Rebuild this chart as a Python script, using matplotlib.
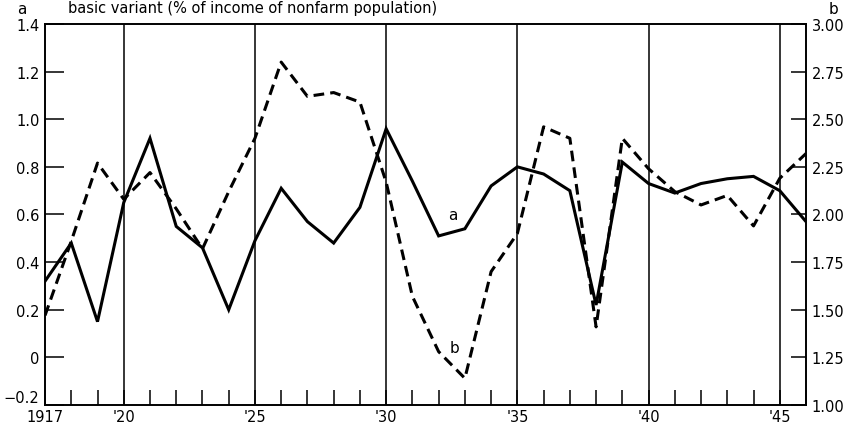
import numpy as np
import matplotlib.pyplot as plt

# Years and the two series
years = list(range(1917, 1947))
series_a = [0.32, 0.48, 0.15, 0.65, 0.92, 0.55, 0.46, 0.20, 0.49, 0.71,
            0.57, 0.48, 0.63, 0.96, 0.74, 0.51, 0.54, 0.72, 0.80, 0.77,
            0.70, 0.22, 0.82, 0.73, 0.69, 0.73, 0.75, 0.76, 0.70, 0.57]
series_b = [1.47, 1.86, 2.27, 2.08, 2.22, 2.03, 1.82, 2.12, 2.40, 2.80,
            2.62, 2.64, 2.59, 2.17, 1.57, 1.28, 1.14, 1.70, 1.90, 2.46,
            2.40, 1.41, 2.40, 2.24, 2.12, 2.05, 2.10, 1.94, 2.19, 2.32]

left_ticks = [-0.2, 0, 0.2, 0.4, 0.6, 0.8, 1.0, 1.2, 1.4]
left_labels = ['\u22120.2', '0', '0.2', '0.4', '0.6', '0.8', '1.0', '1.2', '1.4']
right_ticks = [1.00, 1.25, 1.50, 1.75, 2.00, 2.25, 2.50, 2.75, 3.00]
right_labels = ['1.00', '1.25', '1.50', '1.75', '2.00', '2.25', '2.50', '2.75', '3.00']
x_major = [1917, 1920, 1925, 1930, 1935, 1940, 1945]
x_labels = ['1917', "'20", "'25", "'30", "'35", "'40", "'45"]
grid_years = [1920, 1925, 1930, 1935, 1940, 1945]

plt.rcParams['font.family'] = ['DejaVu Sans']

fig = plt.figure(figsize=(8.56, 4.27), dpi=100)
ax = fig.add_axes([0.0526, 0.0492, 0.889, 0.8923])
ax2 = ax.twinx()

# vertical reference lines at every five years
for yr in grid_years:
    ax.axvline(yr, color='k', lw=1.1, zorder=1)

ax.plot(years, series_a, color='k', lw=2.2, solid_joinstyle='miter', zorder=3)
ax2.plot(years, series_b, color='k', lw=2.2, ls=(0, (3.5, 2)), zorder=3)

ax.set_xlim(1917, 1946)
ax.set_ylim(-0.2, 1.4)
ax2.set_ylim(1.0, 3.0)

ax.set_xticks(x_major)
ax.set_xticklabels(x_labels, fontsize=10.5)
ax.set_xticks(years, minor=True)
ax.tick_params(axis='x', which='both', direction='in', length=11, width=1.1, pad=3)

ax.set_yticks(left_ticks)
ax.set_yticklabels(left_labels, fontsize=10.5)
ax.tick_params(axis='y', direction='in', length=14, width=1.1, pad=4)
# lift the bottom label a little so it clears the year label
ax.get_yticklabels()[0].set_verticalalignment('bottom')

ax2.set_yticks(right_ticks)
ax2.set_yticklabels(right_labels, fontsize=10.5)
ax2.tick_params(axis='y', direction='in', length=11, width=1.1, pad=4)

for s in ax.spines.values():
    s.set_linewidth(1.2)
for s in ax2.spines.values():
    s.set_linewidth(1.2)

# series labels on the lines
ax.text(1932.55, 0.60, 'a', fontsize=11, ha='center', va='center')
ax2.text(1932.6, 1.30, 'b', fontsize=11, ha='center', va='center')

fig.text(22/856, 1 - 10/427, 'a', fontsize=11, ha='center', va='center')
fig.text(68/856, 1 - 8/427, 'basic variant (% of income of nonfarm population)',
         fontsize=10.5, ha='left', va='center')
fig.text(833/856, 1 - 10/427, 'b', fontsize=11, ha='center', va='center')

fig.savefig('out.png', dpi=100)
